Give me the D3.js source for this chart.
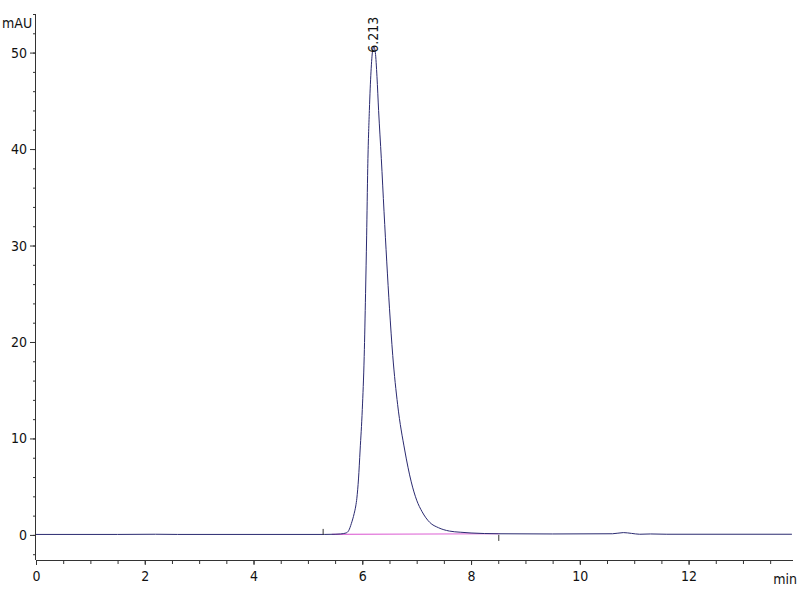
<!DOCTYPE html>
<html>
<head>
<meta charset="utf-8">
<script src="https://cdn.jsdelivr.net/npm/d3@7"></script>
<style>
  body { margin: 0; background: #fff; }
  svg text { font-family: "Liberation Sans Narrow", "Arial Narrow", "DejaVu Sans Condensed", sans-serif; font-size: 14px; fill: #111; }
</style>
</head>
<body>
<svg id="chart" width="800" height="600"></svg>
<script>
// retention time (min) and detector signal (mAU)
const timeMin = [0, 1.5, 2.2, 2.6, 5.3, 5.5, 5.6, 5.7, 5.75, 5.8, 5.85, 5.88, 5.9, 5.93, 5.96, 6.0, 6.035, 6.06, 6.08, 6.1, 6.13, 6.16, 6.19, 6.213,
  6.24, 6.27, 6.3, 6.35, 6.4, 6.45, 6.5, 6.56, 6.65, 6.78, 6.9, 7.0, 7.1, 7.24, 7.4, 7.6, 7.8, 8.0, 8.5, 9.5, 10.6, 10.8, 10.95, 11.1, 11.3, 11.6, 13.9];
const signalMAU = [0.05, 0.05, 0.07, 0.05, 0.05, 0.07, 0.1, 0.2, 0.45, 1.2, 2.2, 3.0, 3.8, 5.8, 8.8, 13, 18.5, 25, 31, 38, 44, 48, 50.2, 50.6,
  50.0, 47.5, 44, 39, 33.5, 28.3, 23.5, 18.6, 13.5, 8.8, 5.5, 3.6, 2.4, 1.3, 0.75, 0.4, 0.28, 0.2, 0.12, 0.1, 0.12, 0.24, 0.16, 0.07, 0.1, 0.07, 0.07];

// integration baseline and event marks
const baselineTime = [5.44, 8.52];
const baselineMAU = [0.05, 0.12];
const eventTimes = [5.28, 8.51];

const peakTimes = [6.213];
const peakHeights = [50.6];
const peakLabels = ['6.213'];

const xMajorTicks = [0, 2, 4, 6, 8, 10, 12];
const xMinorTicks = d3.range(0, 14, 0.5);
const yMajorTicks = [0, 10, 20, 30, 40, 50];
const yMinorTicks = d3.range(-2, 55, 2);

const svg = d3.select('#chart');
const x = d3.scaleLinear().domain([0, 13.92]).range([36, 793]);
const y = d3.scaleLinear().domain([-2.6, 54]).range([560, 14]);

// axes
const xAxisG = svg.append('g').attr('transform', 'translate(0,560)');
xAxisG.call(d3.axisBottom(x).tickValues(xMinorTicks).tickSize(4).tickFormat(''));
xAxisG.append('g').call(d3.axisBottom(x).tickValues(xMajorTicks).tickSize(5).tickPadding(6).tickFormat(d3.format('d')))
  .select('.domain').remove();
xAxisG.selectAll('path.domain').attr('d', `M${x(0)},0.5H793`);

const yAxisG = svg.append('g').attr('transform', 'translate(36,0)');
yAxisG.call(d3.axisLeft(y).tickValues(yMinorTicks).tickSize(3).tickFormat(''));
yAxisG.append('g').call(d3.axisLeft(y).tickValues(yMajorTicks).tickSize(6).tickPadding(3).tickFormat(d3.format('d')))
  .select('.domain').remove();
yAxisG.selectAll('path.domain').attr('d', `M-0.5,14V560`);

svg.selectAll('.domain, .tick line').attr('stroke', '#333');
svg.selectAll('.tick text').attr('font-size', 14).attr('fill', '#111');

svg.append('text').attr('x', 2).attr('y', 28).text('mAU');
svg.append('text').attr('x', 797).attr('y', 584).attr('text-anchor', 'end').text('min');

// integration baseline
svg.append('path')
  .datum(d3.zip(baselineTime, baselineMAU))
  .attr('fill', 'none')
  .attr('stroke', '#e070d8')
  .attr('stroke-width', 1.2)
  .attr('d', d3.line().x(d => x(d[0])).y(d => y(d[1])));

// chromatogram trace
svg.append('path')
  .datum(d3.zip(timeMin, signalMAU))
  .attr('fill', 'none')
  .attr('stroke', '#2a2a70')
  .attr('stroke-width', 1)
  .attr('d', d3.line().curve(d3.curveMonotoneX).x(d => x(d[0])).y(d => y(d[1])));

// event marks
svg.selectAll('line.event')
  .data(eventTimes)
  .enter()
  .append('line')
  .attr('class', 'event')
  .attr('x1', d => x(d)).attr('x2', d => x(d))
  .attr('y1', (d, i) => i === 0 ? y(0) - 6 : y(0))
  .attr('y2', (d, i) => i === 0 ? y(0) : y(0) + 6)
  .attr('stroke', '#333');

// peak label
svg.selectAll('text.peak')
  .data(peakTimes)
  .enter()
  .append('text')
  .attr('class', 'peak')
  .attr('transform', (d, i) => `translate(${x(d) + 4},${y(peakHeights[i]) + 6}) rotate(-90)`)
  .attr('font-size', 15)
  .text((d, i) => peakLabels[i]);
</script>
</body>
</html>
